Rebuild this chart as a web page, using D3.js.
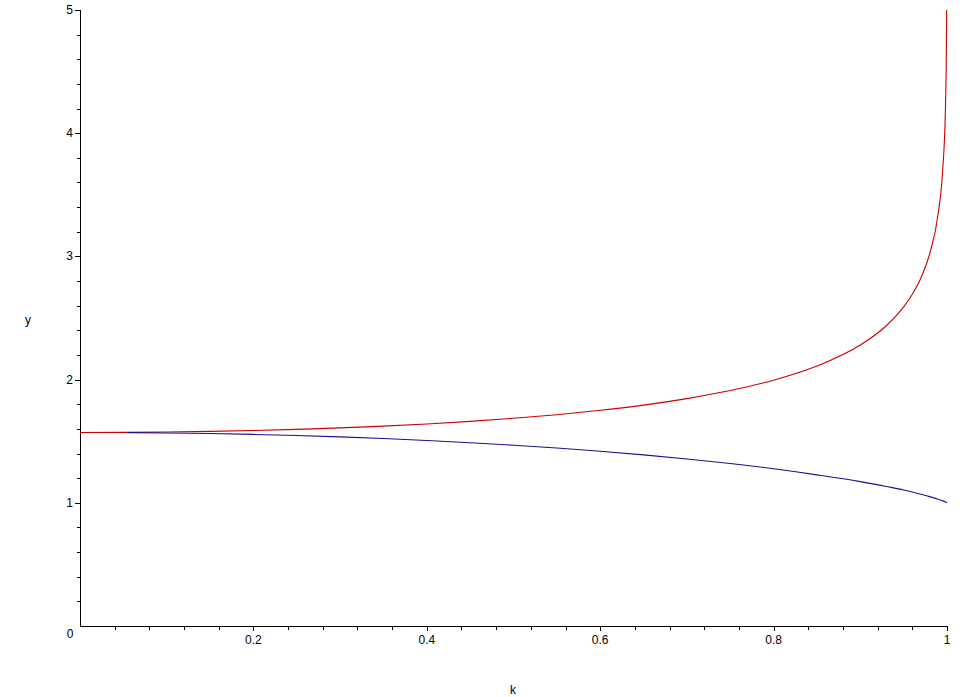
<!DOCTYPE html>
<html>
<head>
<meta charset="utf-8">
<script src="https://cdn.jsdelivr.net/npm/d3@7"></script>
<style>
  html, body { margin: 0; padding: 0; background: #fff; }
  svg { display: block; }
  text { font-family: "Liberation Sans", Arial, sans-serif; font-size: 12px; fill: #000; }
</style>
</head>
<body>
<svg id="chart" width="977" height="697"></svg>
<script>
// Data (red: upper curve, blue: lower curve)
const redK = [0, 0.05, 0.1, 0.15, 0.2, 0.25, 0.3, 0.35, 0.4, 0.45, 0.5, 0.55, 0.6, 0.65, 0.7, 0.75, 0.8, 0.85, 0.9, 0.93, 0.95, 0.96, 0.97, 0.98, 0.99, 0.995, 0.998, 0.999, 0.9995, 0.99964];
const redY = [1.5708, 1.5718, 1.5747, 1.5797, 1.5869, 1.5962, 1.6080, 1.6225, 1.6400, 1.6609, 1.6858, 1.7153, 1.7508, 1.7928, 1.8457, 1.9110, 1.9953, 2.1100, 2.2805, 2.4370, 2.5900, 2.6930, 2.8270, 3.0210, 3.3565, 3.6970, 4.1507, 4.4955, 4.8410, 5.0];
const blueK = [0.055, 0.1, 0.15, 0.2, 0.25, 0.3, 0.35, 0.4, 0.45, 0.5, 0.55, 0.6, 0.65, 0.7, 0.75, 0.8, 0.85, 0.9, 0.93, 0.95, 0.97, 0.98, 0.99, 0.995, 0.999, 1.0];
const blueY = [1.5696, 1.5669, 1.5619, 1.5550, 1.5460, 1.5348, 1.5215, 1.5057, 1.4880, 1.4675, 1.4443, 1.4181, 1.3887, 1.3556, 1.3186, 1.2763, 1.2270, 1.1717, 1.1320, 1.1040, 1.0691, 1.0501, 1.0284, 1.0159, 1.0040, 1.0];
const xMajorTicks = [0.2, 0.4, 0.6, 0.8, 1];
const xTickLabels = ["0.2", "0.4", "0.6", "0.8", "1"];
const yMajorTicks = [1, 2, 3, 4, 5];
const yTickLabels = ["1", "2", "3", "4", "5"];
const xLabel = "k";
const yLabel = "y";

const svg = d3.select("#chart");
const x = d3.scaleLinear().domain([0, 1]).range([80, 947]);
const y = d3.scaleLinear().domain([0, 5]).range([626, 10]);

const xMinor = d3.range(0, 1.0001, 0.04).filter(v => v > 0.001);
const yMinor = d3.range(0, 5.0001, 0.2).filter(v => v > 0.001);

// Axes lines
const axes = svg.append("g").attr("shape-rendering", "crispEdges").attr("stroke", "#000");
axes.append("line").attr("x1", x(0) + 0.5).attr("x2", x(0) + 0.5).attr("y1", y(5)).attr("y2", y(0) + 0.5).attr("stroke-width", 1);
axes.append("line").attr("x1", x(0)).attr("x2", x(1) + 0.5).attr("y1", y(0) + 0.5).attr("y2", y(0) + 0.5).attr("stroke-width", 1);

// x ticks (downwards)
axes.selectAll(".xt").data(xMinor).enter().append("line")
  .attr("x1", d => Math.round(x(d)) + 0.5).attr("x2", d => Math.round(x(d)) + 0.5)
  .attr("y1", y(0)).attr("y2", d => y(0) + (xMajorTicks.some(m => Math.abs(m - d) < 1e-6) ? 5 : 4));
// y ticks (leftwards)
axes.selectAll(".yt").data(yMinor).enter().append("line")
  .attr("y1", d => Math.round(y(d)) + 0.5).attr("y2", d => Math.round(y(d)) + 0.5)
  .attr("x1", x(0)).attr("x2", d => x(0) - (yMajorTicks.some(m => Math.abs(m - d) < 1e-6) ? 5 : 3));

// tick labels
svg.selectAll(".xl").data(xMajorTicks).enter().append("text")
  .attr("x", d => x(d)).attr("y", y(0) + 18).attr("text-anchor", "middle")
  .text((d, i) => xTickLabels[i]);
svg.selectAll(".yl").data(yMajorTicks).enter().append("text")
  .attr("x", x(0) - 7).attr("y", d => y(d) + 4).attr("text-anchor", "end")
  .text((d, i) => yTickLabels[i]);
svg.append("text").attr("x", x(0) - 10).attr("y", y(0) + 12).attr("text-anchor", "middle").text("0");

// axis labels
svg.append("text").attr("x", 513).attr("y", 694).attr("text-anchor", "middle").text(xLabel);
svg.append("text").attr("x", 28).attr("y", 324).attr("text-anchor", "middle").text(yLabel);

// curves
const line = d3.line().x(d => x(d[0])).y(d => y(d[1])).curve(d3.curveMonotoneX);
svg.append("path").datum(redK.map((k, i) => [k, redY[i]]))
  .attr("d", line).attr("fill", "none").attr("stroke", "#cc0000").attr("stroke-width", 1.1);
svg.append("path").datum(blueK.map((k, i) => [k, blueY[i]]))
  .attr("d", line).attr("fill", "none").attr("stroke", "#14148c").attr("stroke-width", 1.1);
</script>
</body>
</html>
